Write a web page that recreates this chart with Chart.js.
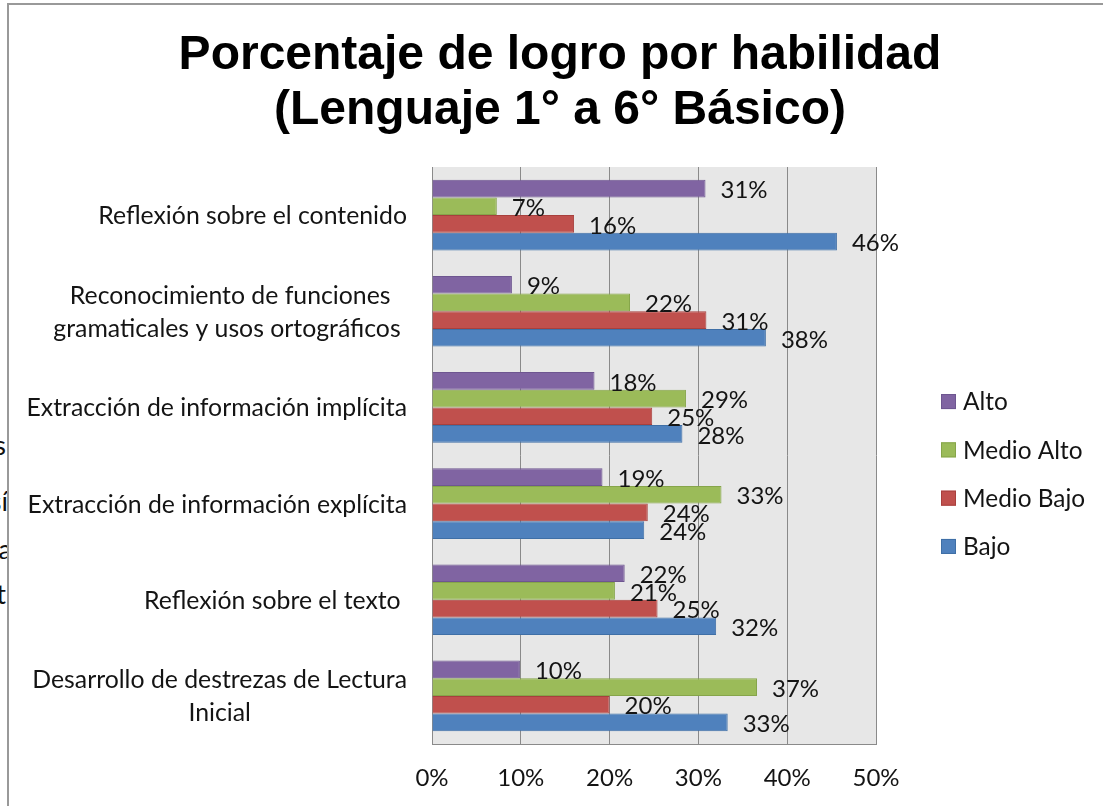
<!DOCTYPE html>
<html><head><meta charset="utf-8">
<script src="https://cdn.jsdelivr.net/npm/chart.js@4/dist/chart.umd.min.js"></script>
<style>
html,body{margin:0;padding:0;background:#fff;width:1103px;height:806px;overflow:hidden}
#frag{position:absolute;left:0;top:0;font-family:Lato,sans-serif;font-size:27px;color:#111}
#frag div{position:absolute;white-space:nowrap;text-align:right;line-height:30px}
#frame{position:absolute;left:7px;top:3px;width:1200px;height:900px;background:#fff;border-left:2px solid #999;border-top:2px solid #999}
canvas{position:absolute;left:0;top:0}
</style></head><body>
<div id="frag">
  <div style="left:-100px;width:106px;top:430px">s</div>
  <div style="left:-100px;width:108px;top:486px">sí</div>
  <div style="left:-100px;width:112px;top:534px">na</div>
  <div style="left:-100px;width:106px;top:579px">t</div>
</div>
<div id="frame"></div>
<canvas id="c" width="1103" height="806" style="width:1103px;height:806px"></canvas>
<script>
const categories = [
  ['Reflexión sobre el contenido'],
  ['Reconocimiento de funciones', 'gramaticales y usos ortográficos '],
  ['Extracción de información implícita'],
  ['Extracción de información explícita'],
  ['Reflexión sobre el texto '],
  ['Desarrollo de destrezas de Lectura', 'Inicial']
];
const seriesNames = ['Alto', 'Medio Alto', 'Medio Bajo', 'Bajo'];
const alto      = [30.8,  9.0, 18.3, 19.2, 21.7,  9.9];
const medioAlto = [ 7.3, 22.3, 28.6, 32.6, 20.6, 36.6];
const medioBajo = [16.0, 30.9, 24.8, 24.3, 25.4, 20.0];
const bajo      = [45.6, 37.6, 28.2, 23.9, 32.0, 33.3];
const xTicks = [0, 10, 20, 30, 40, 50];
const titleLines = ['Porcentaje de logro por habilidad', '(Lenguaje 1° a 6° Básico)'];

const fills   = ['#8064A2', '#9BBB59', '#C0504D', '#4F81BD'];
const borders = ['#6E5690', '#86A54A', '#A8403D', '#3F6FA6'];
const FONT = 'Lato, "Open Sans", sans-serif';
const TEXT = '#141414';

const seriesData = [alto, medioAlto, medioBajo, bajo];

const bgPlugin = {
  id: 'bg',
  beforeDraw(chart) {
    const a = chart.chartArea, ctx = chart.ctx;
    ctx.save();
    ctx.fillStyle = '#e7e7e7';
    ctx.fillRect(a.left, a.top, a.right - a.left, a.bottom - a.top);
    ctx.restore();
  }
};

const labelsPlugin = {
  id: 'labels',
  afterDatasetsDraw(chart) {
    const ctx = chart.ctx;
    ctx.save();
    ctx.font = '24px ' + FONT;
    ctx.fillStyle = TEXT;
    ctx.textAlign = 'left';
    ctx.textBaseline = 'middle';
    chart.data.datasets.forEach((ds, i) => {
      chart.getDatasetMeta(i).data.forEach((el, j) => {
        ctx.fillText(Math.round(ds.data[j]) + '%', el.x + 15, el.y + 2);
      });
    });
    ctx.restore();
  },
  afterDraw(chart) {
    const ctx = chart.ctx, a = chart.chartArea, ys = chart.scales.y;
    ctx.save();
    ctx.font = '24.8px ' + FONT;
    ctx.fillStyle = TEXT;
    ctx.textAlign = 'center';
    ctx.textBaseline = 'middle';
    const lh = 33;
    categories.forEach((lines, j) => {
      const y = ys.getPixelForValue(j);
      const maxW = Math.max(...lines.map(l => ctx.measureText(l).width));
      const cx = a.left - 25 - maxW / 2;
      lines.forEach((l, k) => {
        ctx.fillText(l, cx, y + 1 + (k - (lines.length - 1) / 2) * lh);
      });
    });
    // legend
    ctx.font = '24.4px ' + FONT;
    const sp = 48.3;
    const cy = (a.top + a.bottom) / 2 + 18.5;
    const x0 = a.right + 65;
    ctx.textAlign = 'left';
    seriesNames.forEach((n, i) => {
      const y = cy + (i - 1.5) * sp;
      ctx.fillStyle = fills[i];
      ctx.fillRect(x0, y - 7.5, 15, 15);
      ctx.strokeStyle = borders[i];
      ctx.lineWidth = 1;
      ctx.strokeRect(x0 + 0.5, y - 7, 14, 14);
      ctx.fillStyle = TEXT;
      ctx.fillText(n, x0 + 22, y + 1);
    });
    ctx.restore();
  }
};

new Chart(document.getElementById('c'), {
  type: 'bar',
  data: {
    labels: categories,
    datasets: seriesNames.map((n, i) => ({
      label: n,
      data: seriesData[i],
      backgroundColor: fills[i],
      borderColor: borders[i],
      borderWidth: 1,
      categoryPercentage: 0.735,
      barPercentage: 1
    }))
  },
  options: {
    indexAxis: 'y',
    responsive: false,
    animation: false,
    layout: { padding: { left: 17, right: 0, top: 0, bottom: 0 } },
    plugins: {
      legend: { display: false },
      tooltip: { enabled: false },
      title: {
        display: true,
        text: titleLines,
        color: '#000',
        font: { family: '"Liberation Sans", Arial, sans-serif', size: 48, weight: 'bold', lineHeight: 1.146 },
        padding: { top: 28, bottom: 29 }
      }
    },
    scales: {
      x: {
        min: 0, max: 50,
        afterBuildTicks(s) { s.ticks = xTicks.map(v => ({ value: v })); },
        ticks: { callback: v => v + '%', font: { family: FONT, size: 24 }, color: TEXT, padding: 20, maxRotation: 0 },
        grid: { color: '#8a8a8a', lineWidth: 1, drawTicks: false },
        border: { display: true, color: '#8a8a8a' },
        afterFit(s) { s.height = 62; }
      },
      y: {
        ticks: { display: false },
        grid: { display: false, drawTicks: false },
        border: { display: true, color: '#8a8a8a' },
        afterFit(s) { s.width = 415; }
      },
      yR: {
        type: 'category',
        position: 'right',
        display: true,
        ticks: { display: false },
        grid: { display: false, drawTicks: false },
        border: { display: false },
        afterFit(s) { s.width = 227; }
      }
    }
  },
  plugins: [bgPlugin, labelsPlugin]
});
</script>
</body></html>
